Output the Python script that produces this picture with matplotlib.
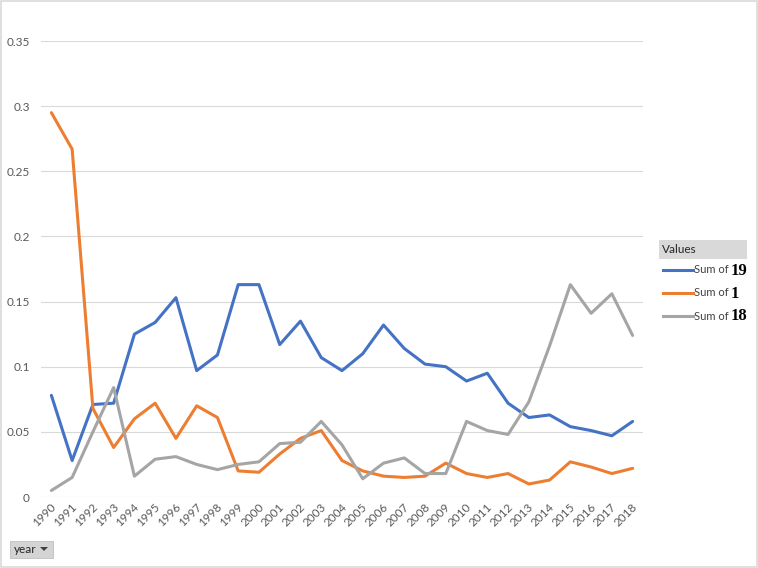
import matplotlib
matplotlib.use("Agg")
import matplotlib.pyplot as plt
import matplotlib.transforms as mtransforms
from matplotlib.lines import Line2D
from matplotlib.patches import Rectangle, Polygon

years = [str(y) for y in range(1990, 2019)]

sum_19 = [0.078, 0.028, 0.071, 0.072, 0.125, 0.134, 0.153, 0.097, 0.109, 0.163,
          0.163, 0.117, 0.135, 0.107, 0.097, 0.110, 0.132, 0.114, 0.102, 0.100,
          0.089, 0.095, 0.072, 0.061, 0.063, 0.054, 0.051, 0.047, 0.058]
sum_1 = [0.295, 0.267, 0.068, 0.038, 0.060, 0.072, 0.045, 0.070, 0.061, 0.020,
         0.019, 0.033, 0.045, 0.051, 0.028, 0.020, 0.016, 0.015, 0.016, 0.026,
         0.018, 0.015, 0.018, 0.010, 0.013, 0.027, 0.023, 0.018, 0.022]
sum_18 = [0.005, 0.015, 0.050, 0.084, 0.016, 0.029, 0.031, 0.025, 0.021, 0.025,
          0.027, 0.041, 0.042, 0.058, 0.040, 0.014, 0.026, 0.030, 0.018, 0.018,
          0.058, 0.051, 0.048, 0.073, 0.116, 0.163, 0.141, 0.156, 0.124]

series_names = ["19", "1", "18"]
series_values = [sum_19, sum_1, sum_18]
colors = ["#4472C4", "#ED7D31", "#A5A5A5"]

yticks = [0, 0.05, 0.1, 0.15, 0.2, 0.25, 0.3, 0.35]
ytick_labels = ["0", "0.05", "0.1", "0.15", "0.2", "0.25", "0.3", "0.35"]

W, H = 758, 568
fig = plt.figure(figsize=(W / 100, H / 100), dpi=100)
fig.patch.set_facecolor("white")

def fx(px):
    return px / W

def fy(py):
    return 1 - py / H

ax = fig.add_axes([fx(41), fy(497), fx(643) - fx(41), fy(41) - fy(497)])
x = list(range(len(years)))
for vals, c in zip(series_values, colors):
    ax.plot(x, vals, color=c, linewidth=2.2, solid_joinstyle="round", solid_capstyle="round", zorder=3)

ax.set_xlim(-0.5, len(years) - 0.5)
ax.set_ylim(0, 0.35)
ax.set_yticks(yticks)
ax.set_yticklabels(ytick_labels)
ax.set_xticks(x)
ax.set_xticklabels(years, rotation=45, ha="right", rotation_mode="anchor")
for s in ax.spines.values():
    s.set_visible(False)
ax.grid(axis="y", color="#D9D9D9", linewidth=0.8, zorder=0)
ax.tick_params(axis="both", length=0, colors="#595959", labelsize=8.5, labelfontfamily="Lato")
ax.tick_params(axis="y", pad=8)
ax.tick_params(axis="x", pad=6)
offset = mtransforms.ScaledTranslation(3 / 100, 0, fig.dpi_scale_trans)
for lbl in ax.get_xticklabels():
    lbl.set_va("center")
    lbl.set_transform(lbl.get_transform() + offset)

# Legend (drawn manually)
fig.add_artist(Rectangle((fx(659), fy(259)), fx(747) - fx(659), fy(240) - fy(259),
                         transform=fig.transFigure, facecolor="#D9D9D9", edgecolor="none"))
fig.text(fx(662), fy(249.5), "Values", fontsize=8.5, family="Lato", color="#262626", va="center", ha="left")
leg_y = [270, 293, 316]
for name, c, yy in zip(series_names, colors, leg_y):
    fig.add_artist(Line2D([fx(663), fx(693)], [fy(yy), fy(yy)], transform=fig.transFigure,
                          color=c, linewidth=2.2))
    fig.text(fx(694), fy(yy), "Sum of", fontsize=8, family="Lato", color="#404040", va="center", ha="left")
    fig.text(fx(731), fy(yy + 0.5), name, fontsize=12, family="Liberation Serif", weight="bold",
             color="black", va="center", ha="left")

# "year" field button
fig.add_artist(Rectangle((fx(10), fy(558)), fx(53) - fx(10), fy(541) - fy(558),
                         transform=fig.transFigure, facecolor="#D4D4D4", edgecolor="#C0C0C0", linewidth=0.6))
fig.text(fx(14), fy(549.5), "year", fontsize=8.5, family="Lato", color="#262626", va="center", ha="left")
fig.add_artist(Polygon([[fx(40), fy(547)], [fx(48), fy(547)], [fx(44), fy(551)]], closed=True,
                       transform=fig.transFigure, facecolor="#404040", edgecolor="none"))

# outer border
fig.add_artist(Rectangle((fx(0.5), fy(567)), fx(757) - fx(0.5), fy(0.5) - fy(567),
                         transform=fig.transFigure, facecolor="none", edgecolor="#D9D9D9", linewidth=1.2))

fig.savefig("out.png", dpi=100, facecolor="white")
